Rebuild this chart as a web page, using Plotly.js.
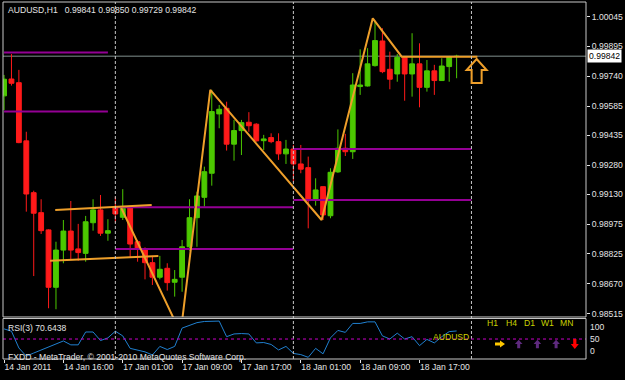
<!DOCTYPE html>
<html><head><meta charset="utf-8">
<script src="https://cdn.plot.ly/plotly-3.0.1.min.js"></script>
<style>html,body{margin:0;padding:0;background:#000;}#chart{width:625px;height:380px;}</style>
</head><body><div id="chart"></div>
<script>
// ---------- data ----------
const symbol = 'AUDUSD';
const period = 'H1';
const open = [0.99638,0.99725,0.99706,0.99406,0.99139,0.99036,0.98947,0.98651,0.98843,0.98941,
  0.98849,0.98826,0.98984,0.99050,0.98930,0.99064,0.99012,0.99064,0.98886,0.98847,
  0.98778,0.98703,0.98749,0.98677,0.98703,0.98860,0.99010,0.99115,0.99239,0.99545,
  0.99574,0.99389,0.99459,0.99502,0.99492,0.99407,0.99423,0.99402,0.99339,0.99364,
  0.99287,0.99268,0.99101,0.99170,0.99020,0.99246,0.99368,0.99350,0.99686,0.99689,
  0.99794,0.99921,0.99775,0.99751,0.99837,0.99751,0.99803,0.99682,0.99767,0.99717,
  0.99789,0.99841];
const high = [0.99746,0.99854,0.99772,0.99453,0.99149,0.99105,0.98950,0.98886,0.98998,0.99096,
  0.98978,0.99019,0.99105,0.99127,0.99002,0.99118,0.99157,0.99070,0.98895,0.98857,
  0.98813,0.98813,0.98775,0.98740,0.98895,0.99105,0.99144,0.99273,0.99669,0.99591,
  0.99608,0.99514,0.99514,0.99554,0.99497,0.99437,0.99445,0.99445,0.99411,0.99385,
  0.99385,0.99325,0.99213,0.99170,0.99265,0.99465,0.99442,0.99755,0.99878,0.99884,
  1.00026,0.99987,0.99866,0.99854,0.99837,0.99961,0.99909,0.99823,0.99798,0.99832,
  0.99844,0.99850];
const low = [0.99565,0.99691,0.99394,0.99041,0.98709,0.98926,0.98543,0.98538,0.98775,0.98792,
  0.98788,0.98783,0.98943,0.98916,0.98891,0.98984,0.98998,0.98806,0.98783,0.98692,
  0.98663,0.98692,0.98634,0.98603,0.98628,0.98840,0.98860,0.99067,0.99175,0.99471,
  0.99356,0.99304,0.99333,0.99453,0.99402,0.99359,0.99394,0.99308,0.99287,0.99196,
  0.99239,0.98955,0.99072,0.98998,0.99007,0.99241,0.99328,0.99313,0.99643,0.99686,
  0.99789,0.99755,0.99672,0.99711,0.99613,0.99634,0.99579,0.99660,0.99643,0.99717,
  0.99711,0.99729];
const close = [0.99724,0.99703,0.99397,0.99132,0.99033,0.98943,0.98651,0.98843,0.98941,0.98843,
  0.98830,0.98989,0.99050,0.98930,0.98943,0.99029,0.99059,0.98874,0.98847,0.98778,
  0.98703,0.98744,0.98675,0.98692,0.98860,0.99010,0.99122,0.99247,0.99557,0.99569,
  0.99389,0.99459,0.99500,0.99484,0.99406,0.99416,0.99402,0.99339,0.99364,0.99287,
  0.99260,0.99098,0.99153,0.99024,0.99244,0.99368,0.99350,0.99694,0.99694,0.99803,
  0.99923,0.99763,0.99724,0.99837,0.99751,0.99803,0.99682,0.99767,0.99717,0.99792,
  0.99840,0.99842];
const rsi = [76,70,27,6,14,22,29,37,45,35,35,68,68,46,53,70,58,26,22,17,
  9,31,23,31,78,86,92,95,96,96,56,63,64,63,40,41,36,22,31,13,
  10,3,26,12,53,72,67,90,90,94,94,58,50,65,50,56,33,49,40,56,
  69,70.6438];
const rsiPeriod = 3;
const rsiLevel = 50;
const priceTicks = [1.00045,0.99895,0.99740,0.99585,0.99435,0.99280,0.99130,0.98975,0.98825,0.98670,0.98515];
const tickBars = [0,8,16,24,32,40,48,56];
const tickLabels = ['14 Jan 2011','14 Jan 16:00','17 Jan 01:00','17 Jan 09:00','17 Jan 17:00','18 Jan 01:00','18 Jan 09:00','18 Jan 17:00'];
const dayStartBars = [15,39,63];
// purple daily levels
const levelPrice = [0.99861,0.99557,0.99064,0.98849,0.99364,0.99101];
const levelFrom  = [0,0,15,15,39,39];
const levelTo    = [14,14,39,39,63,63];
// orange zigzag / pattern lines
const zigBar   = [15.8,23.8,27.8,42.8,49.7,53.6,63.8];
const zigPrice = [0.99060,0.98415,0.99669,0.98998,1.00038,0.99840,0.99840];
const chanUpBar = [6.9,19.9], chanUpPrice = [0.99050,0.99075];
const chanLoBar = [6.2,20.8], chanLoPrice = [0.98788,0.98813];
const arrowBar = 63.7, arrowPrice = 0.99828;
// multi-timeframe panel
const tfNames = ['H1','H4','D1','W1','MN'];
const tfDir = ['right','up','up','up','down'];

// ---------- chart ----------
const N = close.length;
const barIdx = close.map((_, i) => i);
const last = N - 1;
const FONT = 'Liberation Sans, Arial, sans-serif';
const TXT = '#E4E4E4';
const W = 625, H = 380, ML = 3, MR = 39, MT = 2, MB = 21;
const pw = W - ML - MR, ph = H - MT - MB;
const px = x => (x - ML) / pw;
const py = y => (H - MB - y) / ph;

const traces = [];
traces.push({
  type: 'candlestick', x: barIdx, open, high, low, close, xaxis: 'x', yaxis: 'y',
  increasing: {line: {color: '#4CC800', width: 1}, fillcolor: '#4CC800'},
  decreasing: {line: {color: '#FF1A1A', width: 1}, fillcolor: '#FF1A1A'},
  whiskerwidth: 0, hoverinfo: 'skip', showlegend: false
});
// purple level lines
const lvX = [], lvY = [];
levelPrice.forEach((p, k) => { lvX.push(levelFrom[k], levelTo[k], null); lvY.push(p, p, null); });
traces.push({type: 'scatter', mode: 'lines', x: lvX, y: lvY, xaxis: 'x', yaxis: 'y',
  line: {color: '#940094', width: 2}, hoverinfo: 'skip', connectgaps: false});
// orange lines
traces.push({type: 'scatter', mode: 'lines', x: [...chanUpBar, null, ...chanLoBar],
  y: [...chanUpPrice, null, ...chanLoPrice], xaxis: 'x', yaxis: 'y',
  line: {color: '#EE9F2A', width: 2}, hoverinfo: 'skip'});
traces.push({type: 'scatter', mode: 'lines', x: zigBar, y: zigPrice, xaxis: 'x', yaxis: 'y',
  line: {color: '#EE9F2A', width: 2}, hoverinfo: 'skip'});
// RSI
traces.push({type: 'scatter', mode: 'lines', x: barIdx, y: rsi, xaxis: 'x', yaxis: 'y2',
  line: {color: '#2080D0', width: 1}, hoverinfo: 'skip'});

const shapes = [];
// current price line
shapes.push({type: 'line', xref: 'x domain', x0: 0, x1: 1, yref: 'y', y0: close[last], y1: close[last],
  line: {color: '#56605F', width: 1.5}, layer: 'below'});
// day separators
dayStartBars.forEach(d => shapes.push({type: 'line', xref: 'x', x0: d, x1: d, yref: 'paper', y0: 0, y1: 1,
  line: {color: '#C8C8C8', width: 1, dash: '3px,2px'}}));
// RSI level
shapes.push({type: 'line', xref: 'x domain', x0: 0, x1: 1, yref: 'y2', y0: rsiLevel, y1: rsiLevel,
  line: {color: '#C800C8', width: 1, dash: '3px,3px'}});
// frames
shapes.push({type: 'rect', xref: 'x domain', yref: 'y domain', x0: 0, x1: 1, y0: 0, y1: 1,
  line: {color: '#C8C8C8', width: 1}});
shapes.push({type: 'rect', xref: 'x domain', yref: 'y2 domain', x0: 0, x1: 1, y0: 0, y1: 1,
  line: {color: '#C8C8C8', width: 1}});
// hollow up arrow object
shapes.push({type: 'path', xref: 'x', yref: 'y', xsizemode: 'pixel', ysizemode: 'pixel',
  xanchor: arrowBar, yanchor: arrowPrice,
  path: 'M0,0 L10,-11 L5,-11 L5,-24 L-5,-24 L-5,-11 L-10,-11 Z',
  line: {color: '#EE9F2A', width: 2}, fillcolor: 'rgba(0,0,0,0)'});

const ann = [];
const f5 = v => v.toFixed(5);
ann.push({text: `${symbol},${period}\u00a0\u00a0 ${f5(open[last])} ${f5(high[last])} ${f5(low[last])} ${f5(close[last])}`,
  xref: 'paper', x: 0, xanchor: 'left', xshift: 3, yref: 'paper', y: 1, yanchor: 'middle', yshift: -7.5,
  showarrow: false, font: {family: FONT, size: 8.6, color: TXT}});
ann.push({text: `RSI(${rsiPeriod}) ${rsi[last].toFixed(4)}`,
  xref: 'paper', x: 0, xanchor: 'left', xshift: 3, yref: 'y2 domain', y: 1, yanchor: 'middle', yshift: -9,
  showarrow: false, font: {family: FONT, size: 8.6, color: TXT}});
ann.push({text: 'FXDD - MetaTrader, \u00a9 2001-2010 MetaQuotes Software Corp.',
  xref: 'paper', x: 0, xanchor: 'left', xshift: 3, yref: 'y2 domain', y: 0, yanchor: 'middle', yshift: 2.5,
  showarrow: false, font: {family: FONT, size: 8.6, color: TXT}});
ann.push({text: f5(close[last]), xref: 'paper', x: 1, xanchor: 'left', xshift: 1, yref: 'y', y: close[last],
  yanchor: 'middle', showarrow: false, bgcolor: '#FFFFFF', borderpad: 1,
  font: {family: FONT, size: 8.6, color: '#000000'}});
[[100, 'top'], [50, 'middle'], [0, 'bottom']].forEach(([v, a]) => ann.push({text: String(v),
  xref: 'paper', x: 1, xanchor: 'left', xshift: 2, yref: 'y2', y: v, yanchor: a, showarrow: false,
  font: {family: FONT, size: 8.6, color: TXT}}));
// MTF panel
const arrowPath = {
  up: 'M0,4.3 L3.8,0 L1.5,0 L1.5,-4.3 L-1.5,-4.3 L-1.5,0 L-3.8,0 Z',
  down: 'M0,-5 L4,0 L1.6,0 L1.6,5 L-1.6,5 L-1.6,0 L-4,0 Z',
  right: 'M5,0 L0,3.6 L0,1.4 L-5,1.4 L-5,-1.4 L0,-1.4 L0,-3.6 Z'
};
const gcol = {up: '#5E2A7E', down: '#FF0000', right: '#FFC800'};
ann.push({text: symbol, xref: 'paper', x: px(471), yref: 'paper', y: py(344), showarrow: false,
  font: {family: FONT, size: 8.6, color: '#D0D200'}});
tfNames.forEach((t, k) => {
  const cx = 500 + k * 18.7;
  ann.push({text: t, xref: 'paper', x: px(cx), yref: 'paper', y: py(330), showarrow: false,
    font: {family: FONT, size: 8.6, color: '#C8D200'}});
  shapes.push({type: 'path', xref: 'paper', yref: 'paper', xsizemode: 'pixel', ysizemode: 'pixel',
    xanchor: px(cx), yanchor: py(344), path: arrowPath[tfDir[k]],
    fillcolor: gcol[tfDir[k]], line: {width: 0}});
});

const layout = {
  width: W, height: H, paper_bgcolor: '#000000', plot_bgcolor: '#000000',
  margin: {l: ML, r: MR, t: MT, b: MB, pad: 0}, showlegend: false,
  boxgap: 0.35, boxgroupgap: 0,
  font: {family: FONT, size: 8.6, color: TXT},
  xaxis: {range: [-0.14, 78.44], anchor: 'y2', tickvals: tickBars, ticktext: tickLabels,
    ticks: 'outside', ticklen: 3, tickcolor: TXT, ticklabelposition: 'outside right',
    showgrid: false, zeroline: false, showline: false, rangeslider: {visible: false}, fixedrange: true},
  yaxis: {domain: [0.1177, 1], range: [0.98498, 1.00122], side: 'right', tickvals: priceTicks,
    tickformat: '.5f', ticks: 'outside', ticklen: 3, tickcolor: TXT, showgrid: false, zeroline: false,
    showline: false, fixedrange: true},
  yaxis2: {domain: [0, 0.1134], range: [-1.3, 102.6], side: 'right', showticklabels: false,
    showgrid: false, zeroline: false, showline: false, fixedrange: true},
  shapes, annotations: ann
};
Plotly.newPlot('chart', traces, layout, {staticPlot: true, displayModeBar: false});
</script></body></html>
